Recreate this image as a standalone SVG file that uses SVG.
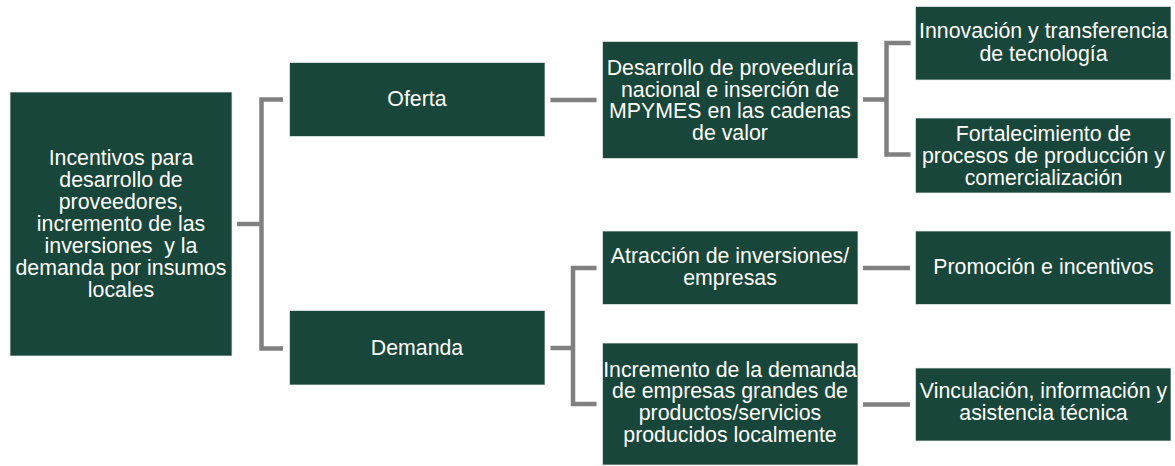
<svg xmlns="http://www.w3.org/2000/svg" width="1175" height="466" viewBox="0 0 1175 466">
<style>
.box{fill:#18463A;stroke:#E8ECEA;stroke-width:0.75}
.t{font-family:"Liberation Sans",Arial,sans-serif;font-size:21.33px;fill:#FFFFFF;text-anchor:middle}
.c{fill:none;stroke:#808080;stroke-width:4.5;stroke-linejoin:miter;stroke-linecap:butt}
</style>
<rect width="1175" height="466" fill="#FFFFFF"/>
<g id="connectors">
<line class="c" x1="237" y1="224" x2="261.5" y2="224"/>
<polyline class="c" points="283,99.5 261.5,99.5 261.5,348.5 283,348.5"/>
<line class="c" x1="550.5" y1="100" x2="596.5" y2="100"/>
<line class="c" x1="550.5" y1="348" x2="573" y2="348"/>
<polyline class="c" points="596.5,268 573,268 573,404 596.5,404"/>
<line class="c" x1="863" y1="99.5" x2="886.5" y2="99.5"/>
<polyline class="c" points="910.5,43 886.5,43 886.5,154.5 910.5,154.5"/>
<line class="c" x1="863" y1="268" x2="910" y2="268"/>
<line class="c" x1="863" y1="404.5" x2="910" y2="404.5"/>
</g>
<g id="root">
<rect class="box" x="10" y="92" width="222" height="264"/>
<text class="t"><tspan x="121" y="165">Incentivos para</tspan><tspan x="121" y="187">desarrollo de</tspan><tspan x="121" y="209">proveedores,</tspan><tspan x="121" y="231">incremento de las</tspan><tspan x="121" y="253" xml:space="preserve">inversiones  y la</tspan><tspan x="121" y="275">demanda por insumos</tspan><tspan x="121" y="297">locales</tspan></text>
</g>
<g id="oferta">
<rect class="box" x="289.5" y="62.5" width="255.5" height="74"/>
<text class="t" x="417" y="106">Oferta</text>
</g>
<g id="demanda">
<rect class="box" x="289.5" y="310.5" width="255.5" height="74.5"/>
<text class="t" x="417" y="354.5">Demanda</text>
</g>
<g id="desarrollo">
<rect class="box" x="602.5" y="41.5" width="255.5" height="117"/>
<text class="t"><tspan x="730" y="74.6">Desarrollo de proveeduría</tspan><tspan x="730" y="96.5">nacional e inserción de</tspan><tspan x="730" y="118.4">MPYMES en las cadenas</tspan><tspan x="730" y="140.3">de valor</tspan></text>
</g>
<g id="innovacion">
<rect class="box" x="915.5" y="6.5" width="255.5" height="73.5"/>
<text class="t"><tspan x="1043.5" y="38">Innovación y transferencia</tspan><tspan x="1043.5" y="60.5">de tecnología</tspan></text>
</g>
<g id="fortalecimiento">
<rect class="box" x="915.5" y="118" width="255.5" height="75"/>
<text class="t"><tspan x="1043.5" y="141.2">Fortalecimiento de</tspan><tspan x="1043.5" y="163.1">procesos de producción y</tspan><tspan x="1043.5" y="185">comercialización</tspan></text>
</g>
<g id="atraccion">
<rect class="box" x="602.5" y="231" width="255.5" height="73.5"/>
<text class="t"><tspan x="730" y="263.2">Atracción de inversiones/</tspan><tspan x="730" y="285.1">empresas</tspan></text>
</g>
<g id="incremento">
<rect class="box" x="602.5" y="343" width="255.5" height="122"/>
<text class="t"><tspan x="730" y="376.5">Incremento de la demanda</tspan><tspan x="730" y="398.4">de empresas grandes de</tspan><tspan x="730" y="420.3">productos/servicios</tspan><tspan x="730" y="442.2">producidos localmente</tspan></text>
</g>
<g id="promocion">
<rect class="box" x="915.5" y="231" width="255.5" height="73.5"/>
<text class="t" x="1043.5" y="274">Promoción e incentivos</text>
</g>
<g id="vinculacion">
<rect class="box" x="915.5" y="368" width="255.5" height="73"/>
<text class="t"><tspan x="1043.5" y="398.2">Vinculación, información y</tspan><tspan x="1043.5" y="420.1">asistencia técnica</tspan></text>
</g>
</svg>
